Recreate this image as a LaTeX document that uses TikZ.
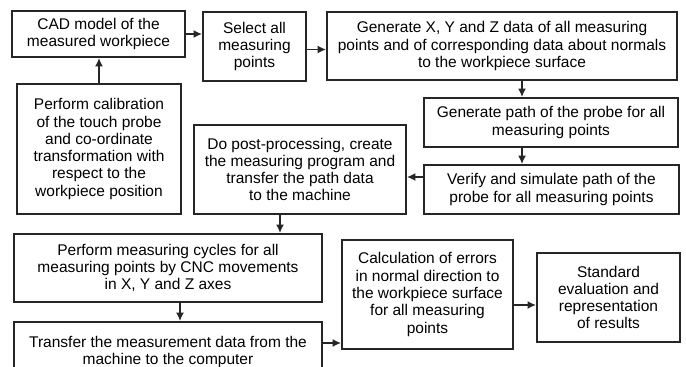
\documentclass[tikz,border=0pt]{standalone}
\usepackage{fontspec}
\setmainfont{Liberation Sans}
\usetikzlibrary{arrows.meta}
\tikzset{
    stepbox/.style={draw=black!85, line width=1.8pt, inner sep=0pt, align=center,
                    font=\fontsize{15.5}{17.3}\selectfont},
    arr/.style={black!85, line width=1.8pt, -{Latex[length=8.5pt,width=8pt]}}
}

\begin{document}
\begin{tikzpicture}[x=1pt, y=-1pt]
            \useasboundingbox (0,0) rectangle (686,367);
            \node[stepbox, minimum width=173, minimum height=46]  (cad)    at ( 98.5,  34.0) {CAD model of the\\measured workpiece};
            \node[stepbox, minimum width=164, minimum height=130] (calib)  at ( 99.0, 149.0) {Perform calibration\\of the touch probe\\and co-ordinate\\transformation with\\respect to the\\workpiece position};
            \node[stepbox, minimum width=103, minimum height=69]  (select) at (254.5,  46.5) {Select all\\measuring\\points};
            \node[stepbox, minimum width=350, minimum height=68]  (gen)    at (502.0,  46.0) {Generate X, Y and Z data of all measuring\\points and of corresponding data about normals\\to the workpiece surface};
            \node[stepbox, minimum width=254, minimum height=49]  (path)   at (551.0, 122.5) {Generate path of the probe for all\\measuring points};
            \node[stepbox, minimum width=255, minimum height=49]  (verify) at (551.5, 189.5) {Verify and simulate path of the\\probe for all measuring points};
            \node[stepbox, minimum width=212, minimum height=89]  (post)   at (300.0, 169.5) {Do post-processing, create\\the measuring program and\\transfer the path data\\to the machine};
            \node[stepbox, minimum width=308, minimum height=68]  (cycles) at (168.0, 268.0) {Perform measuring cycles for all\\measuring points by CNC movements\\in X, Y and Z axes};
            \node[stepbox, minimum width=308, minimum height=60]  (trans)  at (168.0, 352.0) {Transfer the measurement data from the\\machine to the computer};
            \node[stepbox, minimum width=171, minimum height=109] (calc)   at (427.5, 294.5) {Calculation of errors\\in normal direction to\\the workpiece surface\\for all measuring\\points};
            \node[stepbox, minimum width=143, minimum height=89]  (std)    at (608.5, 297.5) {Standard\\evaluation and\\representation\\of results};
            % arrow lanes
            \coordinate (lanePV) at (522, 177);
            \coordinate (laneC)  at (280, 0);
            \coordinate (laneT)  at (180, 343);
            \coordinate (laneS)  at (0, 305);
            \draw[arr] (calib.north) -- (calib.north |- cad.south);
            \draw[arr] (cad.east) -- (cad.east -| select.west);
            \draw[arr] ([yshift=-3]select.east) -- ([yshift=-3]select.east -| gen.west);
            \draw[arr] (lanePV |- gen.south) -- (lanePV |- path.north);
            \draw[arr] (lanePV |- path.south) -- (lanePV |- verify.north);
            \draw[arr] (lanePV -| verify.west) -- (lanePV -| post.east);
            \draw[arr] (laneC |- post.south) -- (laneC |- cycles.north);
            \draw[arr] (laneT |- cycles.south) -- (laneT |- trans.north);
            \draw[arr] (laneT -| trans.east) -- (laneT -| calc.west);
            \draw[arr] (laneS -| calc.east) -- (laneS -| std.west);
        \end{tikzpicture}
\end{document}
